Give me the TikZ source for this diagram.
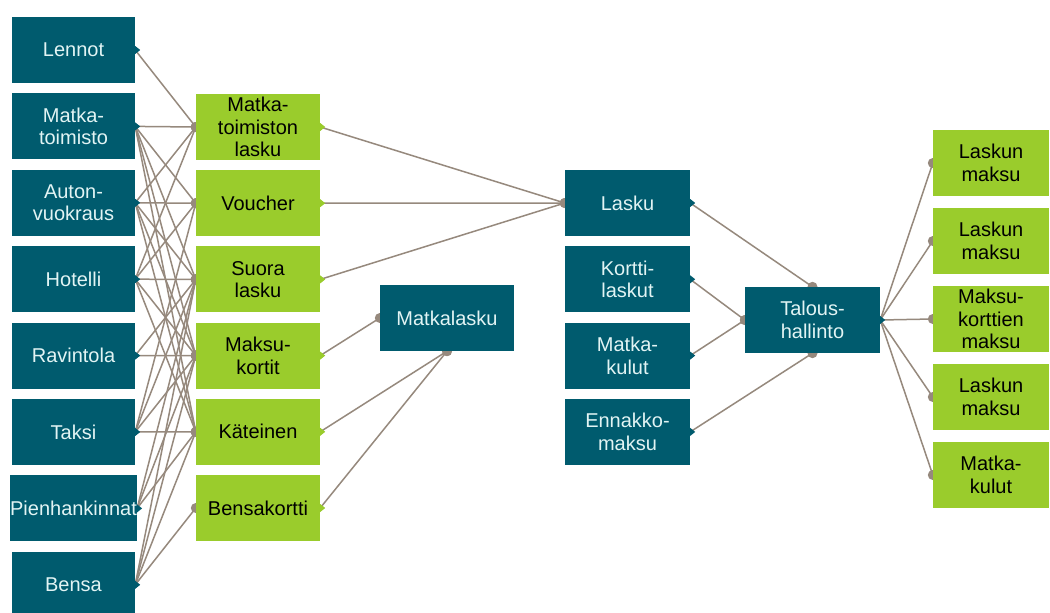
\documentclass[tikz,border=0pt]{standalone}
\usepackage{fontspec}
\setmainfont{Liberation Sans}
\usetikzlibrary{backgrounds}

\definecolor{petrol}{RGB}{0,91,110}
\definecolor{lime}{RGB}{154,204,44}
\definecolor{wire}{RGB}{150,137,125}
\definecolor{paletext}{RGB}{226,244,244}

\tikzset{
  box/.style={rectangle, inner sep=0pt, minimum height=66pt, align=center,
    font=\fontsize{20}{22.5}\selectfont},
  darkbox/.style={box, fill=petrol, text=paletext},
  greenbox/.style={box, fill=lime, text=black},
  link/.style={draw=wire, line width=1.5pt},
}

% small pointed tab on the right edge of a box
\newcommand\notch[2]{\fill[#2] ([yshift=4pt]#1.east) -- ([xshift=5pt]#1.east) -- ([yshift=-4pt]#1.east) -- cycle;}

\begin{document}
\begin{tikzpicture}[x=1pt,y=-1pt]
\useasboundingbox (0,0) rectangle (1050,613);

% sources
\foreach \n/\t [count=\i from 0] in {lennot/Lennot, mtoim/{Matka-\\toimisto},
  auto/{Auton-\\vuokraus}, hotelli/Hotelli, ravin/Ravintola, taksi/Taksi,
  pienh/Pienhankinnat, bensa/Bensa}
{
\node[darkbox, minimum width=123pt] (\n) at (73.5,50+76.4*\i) {\t};
\notch{\n}{petrol}
}

% ways to pay
\foreach \n/\t [count=\i from 0] in {mtl/{Matka-\\toimiston\\lasku}, vouch/Voucher,
  suora/{Suora\\lasku}, mkort/{Maksu-\\kortit}, kat/K\"ateinen, bkort/Bensakortti}
{
\node[greenbox, minimum width=124pt] (\n) at (258,127+76.2*\i) {\t};
\notch{\n}{lime}
}

\node[darkbox, minimum width=134pt] (mlasku) at (447,318) {Matkalasku};

\foreach \n/\t [count=\i from 0] in {lasku/Lasku, klask/{Kortti-\\laskut},
  mkul/{Matka-\\kulut}, ennak/{Ennakko-\\maksu}}
{
\node[darkbox, minimum width=125pt] (\n) at (627.5,203+76.3*\i) {\t};
\notch{\n}{petrol}
}

\node[darkbox, minimum width=135pt] (talous) at (812.5,320) {Talous-\\hallinto};
\notch{talous}{petrol}

\foreach \n/\t [count=\i from 0] in {lm1/{Laskun\\maksu}, lm2/{Laskun\\maksu},
  mkm/{Maksu-\\korttien\\maksu}, lm3/{Laskun\\maksu}, mkul2/{Matka-\\kulut}}
{
\node[greenbox, minimum width=116pt] (\n) at (991,163+78*\i) {\t};
}

\begin{scope}[on background layer]
\fill[white] (0,0) rectangle (1050,613);

\foreach \a/\b in {lennot/mtl,
  mtoim/mtl, mtoim/vouch, mtoim/suora, mtoim/mkort, mtoim/kat,
  auto/mtl, auto/vouch, auto/suora, auto/mkort, auto/kat,
  hotelli/mtl, hotelli/vouch, hotelli/suora, hotelli/mkort, hotelli/kat,
  ravin/suora, ravin/mkort,
  taksi/vouch, taksi/suora, taksi/mkort, taksi/kat,
  pienh/suora, pienh/mkort, pienh/kat,
  bensa/suora, bensa/mkort, bensa/kat, bensa/bkort,
  mtl/lasku, vouch/lasku, suora/lasku, mkort/mlasku,
  klask/talous, mkul/talous,
  talous/lm1, talous/lm2, talous/mkm, talous/lm3, talous/mkul2}
{
\draw[link] (\a.east) -- (\b.west);
\fill[wire] (\b.west) circle (5pt);
}

\foreach \a/\b in {kat/mlasku, bkort/mlasku, ennak/talous}
{
\draw[link] (\a.east) -- (\b.south);
\fill[wire] (\b.south) circle (5pt);
}

\draw[link] (lasku.east) -- (talous.north);
\fill[wire] (talous.north) circle (5pt);
\end{scope}

\end{tikzpicture}
\end{document}
